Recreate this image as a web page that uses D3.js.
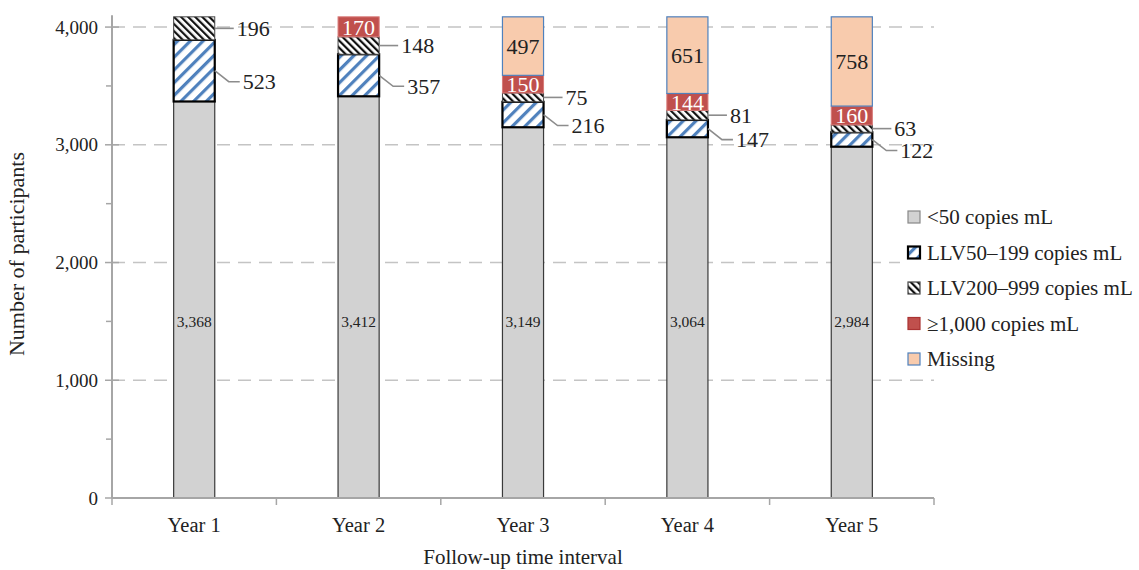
<!DOCTYPE html>
<html>
<head>
<meta charset="utf-8">
<script src="https://cdn.jsdelivr.net/npm/d3@7"></script>
<style>
  body { margin: 0; background: #fff; }
  text { font-family: "Liberation Serif", "Times New Roman", serif; fill: #222; }
</style>
</head>
<body>
<script>
// 数据
let years = ['Year 1', 'Year 2', 'Year 3', 'Year 4', 'Year 5']
let seriesNames = ['<50 copies mL', 'LLV50–199 copies mL', 'LLV200–999 copies mL', '≥1,000 copies mL', 'Missing']
let lt50 = [3368, 3412, 3149, 3064, 2984]
let llv50 = [523, 357, 216, 147, 122]
let llv200 = [196, 148, 75, 81, 63]
let ge1000 = [0, 170, 150, 144, 160]
let missing = [0, 0, 497, 651, 758]
let yTicks = [0, 1000, 2000, 3000, 4000]

let W = 1139, H = 570
let svg = d3.select('body').append('svg').attr('width', W).attr('height', H)

// 图案
let defs = svg.append('defs')
let p1 = defs.append('pattern').attr('id', 'pBlue').attr('patternUnits', 'userSpaceOnUse')
  .attr('width', 9).attr('height', 9).attr('patternTransform', 'rotate(45)')
p1.append('rect').attr('width', 9).attr('height', 9).attr('fill', '#fff')
p1.append('rect').attr('x', 0).attr('width', 3.2).attr('height', 9).attr('fill', '#4f81bd')
let p2 = defs.append('pattern').attr('id', 'pBlack').attr('patternUnits', 'userSpaceOnUse')
  .attr('width', 5).attr('height', 5).attr('patternTransform', 'rotate(-45)')
p2.append('rect').attr('width', 5).attr('height', 5).attr('fill', '#fff')
p2.append('rect').attr('x', 0).attr('width', 2.2).attr('height', 5).attr('fill', '#111')

let styles = [
  { fill: '#d2d2d2', stroke: '#3a3a3a', sw: 1.2 },
  { fill: 'url(#pBlue)', stroke: '#000', sw: 2.2 },
  { fill: 'url(#pBlack)', stroke: '#444', sw: 1 },
  { fill: '#c0504d', stroke: '#d77a78', sw: 1 },
  { fill: '#f8cbad', stroke: '#4f81bd', sw: 1.2 }
]

let left = 112, right = 934
let x = d3.scaleBand().domain(years).range([left, right]).paddingInner(0.75).paddingOuter(0.375)
let y = d3.scaleLinear().domain([0, 4100]).range([498, 15.3])

// 网格线
svg.append('g').selectAll('line').data(yTicks.slice(1)).enter().append('line')
  .attr('x1', left).attr('x2', right)
  .attr('y1', d => y(d)).attr('y2', d => y(d))
  .attr('stroke', '#c4c4c4').attr('stroke-width', 1.6).attr('stroke-dasharray', '13,8')

// 堆叠
let rows = years.map((yr, i) => ({ year: yr, s0: lt50[i], s1: llv50[i], s2: llv200[i], s3: ge1000[i], s4: missing[i] }))
let stack = d3.stack().keys(['s0', 's1', 's2', 's3', 's4'])
let layers = stack(rows)

let gBars = svg.append('g')
layers.forEach((layer, k) => {
  gBars.append('g').selectAll('rect').data(layer.filter(d => d[1] - d[0] > 0)).enter().append('rect')
    .attr('x', d => x(d.data.year))
    .attr('width', x.bandwidth())
    .attr('y', d => y(d[1]))
    .attr('height', d => y(d[0]) - y(d[1]))
    .attr('fill', styles[k].fill)
    .attr('stroke', styles[k].stroke)
    .attr('stroke-width', styles[k].sw)
})

// 轴
let axisColor = '#a6a6a6'
svg.append('line').attr('x1', left).attr('x2', left).attr('y1', y(0)).attr('y2', y(4100))
  .attr('stroke', axisColor).attr('stroke-width', 2)
svg.append('line').attr('x1', left).attr('x2', right).attr('y1', y(0)).attr('y2', y(0))
  .attr('stroke', axisColor).attr('stroke-width', 2)
svg.append('g').selectAll('line').data(yTicks).enter().append('line')
  .attr('x1', left - 7).attr('x2', left + 7).attr('y1', d => y(d)).attr('y2', d => y(d))
  .attr('stroke', axisColor).attr('stroke-width', 1.5)
svg.append('g').selectAll('line').data([500, 1500, 2500, 3500]).enter().append('line')
  .attr('x1', left - 6).attr('x2', left).attr('y1', d => y(d)).attr('y2', d => y(d))
  .attr('stroke', axisColor).attr('stroke-width', 1.5)
svg.append('g').selectAll('text').data(yTicks).enter().append('text')
  .attr('x', left - 14).attr('y', d => y(d)).attr('dy', '0.35em')
  .attr('text-anchor', 'end').style('font-size', '19px')
  .text(d3.format(','))
let xEdges = years.map(d => x(d) - x.step() * 0.375).concat([right])
svg.append('g').selectAll('line').data(xEdges).enter().append('line')
  .attr('x1', d => d).attr('x2', d => d).attr('y1', y(0)).attr('y2', y(0) + 7)
  .attr('stroke', axisColor).attr('stroke-width', 1.5)
svg.append('g').selectAll('text').data(years).enter().append('text')
  .attr('x', d => x(d) + x.bandwidth() / 2).attr('y', 532)
  .attr('text-anchor', 'middle').style('font-size', '20.5px').text(d => d)
svg.append('text').attr('x', 523).attr('y', 564).attr('text-anchor', 'middle')
  .style('font-size', '21px').text('Follow-up time interval')
svg.append('text').attr('transform', 'translate(24,254) rotate(-90)').attr('text-anchor', 'middle')
  .style('font-size', '22px').text('Number of participants')

// 数据标签
let gLab = svg.append('g')
// <50: 柱内
gLab.selectAll('.l0').data(layers[0]).enter().append('text')
  .attr('x', d => x(d.data.year) + x.bandwidth() / 2).attr('y', y(1500)).attr('dy', '0.35em')
  .attr('text-anchor', 'middle').style('font-size', '15.5px').text(d => d3.format(',')(d[1] - d[0]))
// LLV50 / LLV200: 右侧带引线
let outside = [{ k: 1, dx: 28, dy: 11 }, { k: 2, dx: 22, dy: 0 }]
outside.forEach(o => {
  layers[o.k].forEach(d => {
    let bx = x(d.data.year) + x.bandwidth()
    let my = (y(d[0]) + y(d[1])) / 2
    let lx = bx + o.dx, ly = my + o.dy
    let pts = o.dy > 4 ? [[bx, my], [bx + 14, ly], [lx - 3, ly]] : [[bx, my], [bx + 6, ly], [lx - 3, ly]]
    gLab.append('path').attr('d', d3.line()(pts)).attr('fill', 'none')
      .attr('stroke', '#8c8c8c').attr('stroke-width', 1.6)
    gLab.append('text').attr('x', lx).attr('y', ly).attr('dy', '0.35em')
      .style('font-size', '22px').text(d[1] - d[0])
  })
})
// ≥1,000 与 Missing: 柱内
;[3, 4].forEach(k => {
  gLab.selectAll('.in' + k).data(layers[k].filter(d => d[1] - d[0] > 0)).enter().append('text')
    .attr('x', d => x(d.data.year) + x.bandwidth() / 2).attr('y', d => (y(d[0]) + y(d[1])) / 2).attr('dy', '0.35em')
    .attr('text-anchor', 'middle').style('font-size', '22px')
    .style('fill', k === 3 ? '#fff' : '#222').text(d => d[1] - d[0])
})

// 图例
let gLeg = svg.append('g').attr('transform', 'translate(908,217)')
gLeg.append('rect').attr('x', -8).attr('y', -20).attr('width', 240).attr('height', 180).attr('fill', '#fff')
let items = gLeg.selectAll('g').data(seriesNames).enter().append('g')
  .attr('transform', (d, i) => 'translate(0,' + i * 35.5 + ')')
items.append('rect').attr('x', 0).attr('y', -6).attr('width', 12).attr('height', 12)
  .attr('fill', (d, i) => styles[i].fill)
  .attr('stroke', (d, i) => i === 0 ? '#888' : (i === 3 ? '#a33' : styles[i].stroke))
  .attr('stroke-width', (d, i) => i === 1 ? 2.2 : 1.2)
items.append('text').attr('x', 19).attr('dy', '0.35em').style('font-size', '21px').text(d => d)
</script>
</body>
</html>
